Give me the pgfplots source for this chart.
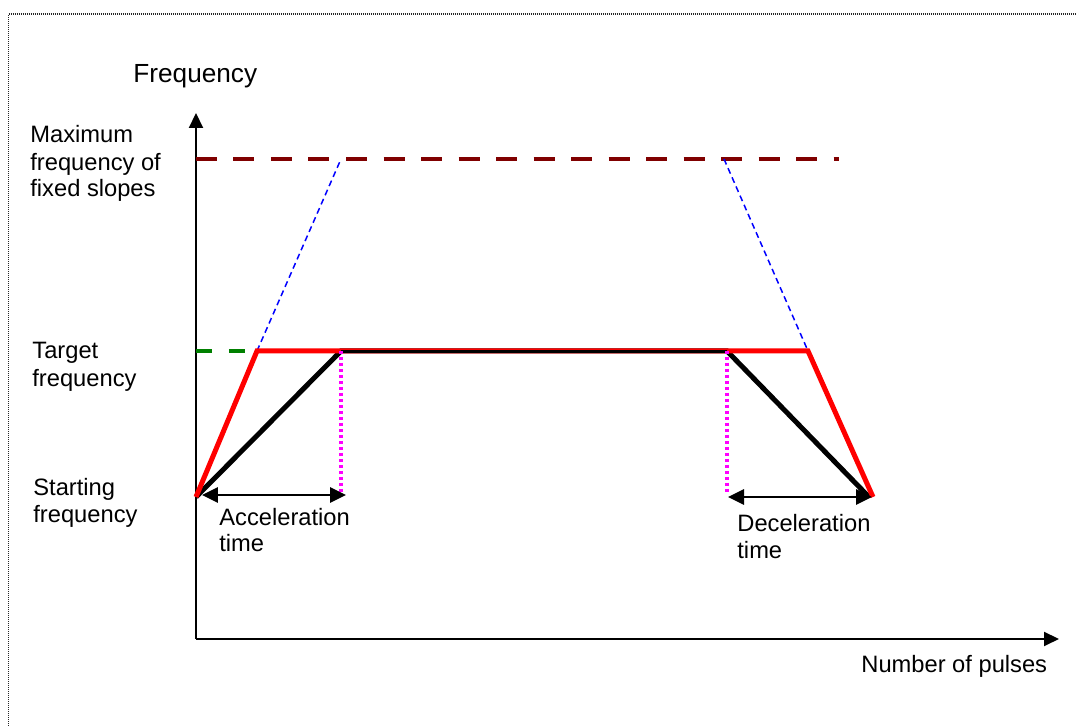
\documentclass[border=0pt]{standalone}
\usepackage{fontspec}
\setmainfont{Liberation Sans}
\usepackage{pgfplots}
\pgfplotsset{compat=1.18}
\usetikzlibrary{arrows.meta}

\definecolor{maxred}{RGB}{128,0,0}
\definecolor{tgtgreen}{RGB}{0,128,0}
\definecolor{dotmag}{RGB}{255,0,255}

\tikzset{
  lbl/.style={anchor=base west, inner sep=0pt, font=\fontsize{11.85pt}{14pt}\selectfont},
  dbl/.style={line width=1.35pt, {Triangle[length=8pt,width=7.5pt]}-{Triangle[length=8pt,width=7.5pt]}}
}

\begin{document}
\begin{tikzpicture}
\useasboundingbox (-98pt,-43.5pt) rectangle (440pt,319.5pt);
% dotted frame (only top and left edge are inside the picture)
\draw[line width=0.7pt, black!85, dash pattern=on 0.5pt off 0.5pt]
  (-93.75pt,-43.5pt) -- (-93.75pt,312.5pt) -- (440pt,312.5pt);

\begin{axis}[
  at={(0,0)}, anchor=south west,
  scale only axis,
  width=431.5pt, height=263pt,
  xmin=0, xmax=863, ymin=0, ymax=526,
  axis lines=left,
  axis line style={line width=1pt, -{Triangle[length=7.5pt,width=7pt]}},
  ticks=none,
  clip=false
]

% maximum frequency of fixed slopes
\addplot[maxred, line width=2.25pt, dash pattern=on 10.5pt off 8.25pt]
  coordinates {(0,480) (643,480)};
% target frequency (green stub)
\addplot[tgtgreen, line width=2pt, dash pattern=on 8pt off 8.5pt]
  coordinates {(0,288) (61,288)};

% fixed slopes extended to the maximum
\addplot[blue, line width=0.75pt, dash pattern=on 3pt off 2pt]
  coordinates {(61,288) (145,480)};
\addplot[blue, line width=0.75pt, dash pattern=on 3pt off 2pt]
  coordinates {(528,480) (612,288)};

% acceleration / deceleration time profile
\addplot[black, line width=2.5pt]
  coordinates {(0,142) (145,288) (531,288) (673,142)};
% fixed slope profile
\addplot[red, line width=2.5pt]
  coordinates {(0,142) (61,288) (612,288) (677,142)};
\addplot[black, line width=1.5pt]
  coordinates {(145,287) (531,287)};

% end of acceleration / start of deceleration
\addplot[dotmag, line width=1.75pt, dash pattern=on 1.5pt off 1.5pt]
  coordinates {(145,288) (145,146)};
\addplot[dotmag, line width=1.75pt, dash pattern=on 1.5pt off 1.5pt]
  coordinates {(531,288) (531,146)};

% time spans
\draw[dbl] (axis cs:6,144) -- (axis cs:150,144);
\draw[dbl] (axis cs:532,142) -- (axis cs:676,142);

% labels
\node[lbl, font=\fontsize{13.1pt}{15pt}\selectfont] at (axis cs:-63,556) {Frequency};
\node[lbl] at (axis cs:-166,496) {Maximum};
\node[lbl] at (axis cs:-166,468) {frequency of};
\node[lbl] at (axis cs:-166,442) {fixed slopes};
\node[lbl] at (axis cs:-164,280) {Target};
\node[lbl] at (axis cs:-164,252) {frequency};
\node[lbl] at (axis cs:-163,143) {Starting};
\node[lbl] at (axis cs:-163,116) {frequency};
\node[lbl] at (axis cs:23,113) {Acceleration};
\node[lbl] at (axis cs:23,87) {time};
\node[lbl] at (axis cs:541,107) {Deceleration};
\node[lbl] at (axis cs:541,80) {time};
\node[lbl] at (axis cs:665,-34) {Number of pulses};

\end{axis}
\end{tikzpicture}
\end{document}
